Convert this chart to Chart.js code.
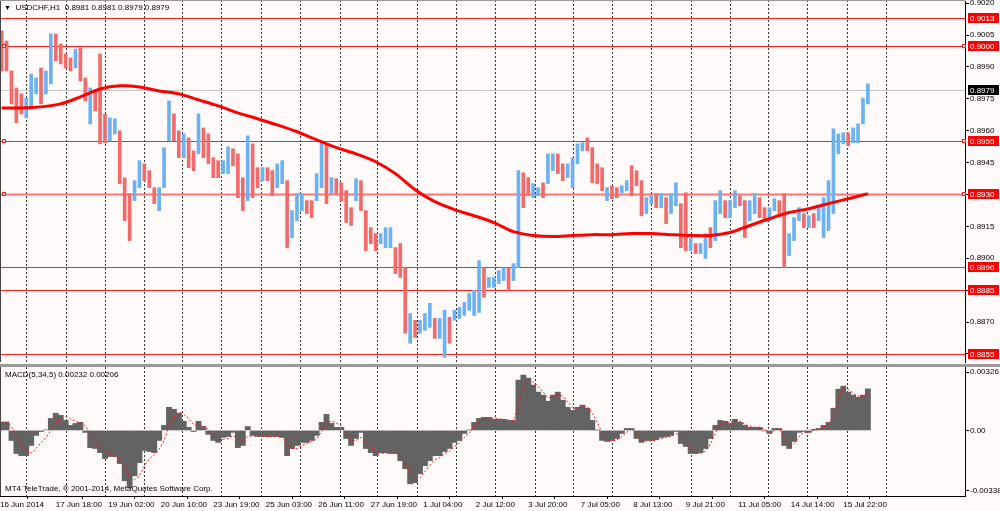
<!DOCTYPE html>
<html>
<head>
<meta charset="utf-8">
<script src="https://cdn.jsdelivr.net/npm/chart.js@4.4.1/dist/chart.umd.min.js"></script>
<style>
  html, body { margin: 0; padding: 0; background: #fffafa; }
  body { width: 1000px; height: 511px; position: relative; overflow: hidden;
         font-family: 'Liberation Sans', Arial, sans-serif; font-size: 8px; color: #000; }
  canvas { position: absolute; left: 0; }
  #priceChart { top: 0; }
  #macdChart { top: 367px; }
  #sep { position: absolute; left: 0; top: 364px; width: 1000px; height: 3px; background: #9a9a9a; }
  .txt { position: absolute; white-space: pre; line-height: 10px; }
</style>
</head>
<body>
<canvas id="priceChart" width="1000" height="364"></canvas>
<div id="sep"></div>
<canvas id="macdChart" width="1000" height="144"></canvas>
<div class="txt" style="left:4px;top:3px"><span style="font-size:7px">▼</span>  USDCHF,H1  0.8981 0.8981 0.8979 0.8979</div>
<div class="txt" style="left:5px;top:370px">MACD(5,34,5) 0.00232 0.00206</div>
<div class="txt" style="left:5px;top:484px">MT4 TeleTrade, © 2001-2014, MetaQuotes Software Corp.</div>
<script>
// H1 bars, sampled every 3 hours (sample k sits on bar 3k+1), bar 0 = 16 Jun 08:00
const barHigh = [
  0.90069,0.90022,0.89881,0.89801,0.89773,0.89754,0.89867,0.89848,0.89895,0.89881,
  0.90055,0.90055,0.90008,0.89961,0.89942,0.89984,0.89989,0.89848,0.89801,0.89787,
  0.89961,0.89679,0.89660,0.89656,0.89599,0.89379,0.89304,0.89365,0.89459,0.89444,
  0.89412,0.89332,0.89332,0.89520,0.89740,0.89679,0.89599,0.89585,0.89566,0.89505,
  0.89679,0.89613,0.89585,0.89473,0.89459,0.89459,0.89524,0.89515,0.89491,0.89379,
  0.89576,0.89538,0.89426,0.89426,0.89426,0.89412,0.89444,0.89459,0.89365,0.89224,
  0.89304,0.89304,0.89271,0.89271,0.89398,0.89552,0.89538,0.89379,0.89374,0.89355,
  0.89318,0.89238,0.89374,0.89365,0.89224,0.89144,0.89116,0.89116,0.89144,0.89144,
  0.89050,0.89069,0.88956,0.88740,0.88708,0.88708,0.88740,0.88788,0.88717,0.88717,
  0.88755,0.88722,0.88755,0.88769,0.88792,0.88834,0.88849,0.88989,0.88956,0.88910,
  0.88910,0.88942,0.88956,0.88956,0.88975,0.89412,0.89402,0.89379,0.89351,0.89332,
  0.89355,0.89491,0.89491,0.89491,0.89444,0.89444,0.89473,0.89538,0.89543,0.89566,
  0.89520,0.89444,0.89426,0.89332,0.89341,0.89332,0.89341,0.89365,0.89435,0.89412,
  0.89365,0.89285,0.89294,0.89304,0.89304,0.89285,0.89304,0.89355,0.89257,0.89308,
  0.89093,0.89069,0.89069,0.89116,0.89144,0.89271,0.89318,0.89271,0.89271,0.89318,
  0.89294,0.89271,0.89271,0.89304,0.89285,0.89238,0.89238,0.89280,0.89271,0.89304,
  0.89116,0.89191,0.89238,0.89210,0.89200,0.89210,0.89238,0.89285,0.89365,0.89609,
  0.89585,0.89590,0.89590,0.89613,0.89632,0.89754,0.89820
];
const barLow = [
  0.89881,0.89881,0.89726,0.89637,0.89679,0.89660,0.89707,0.89773,0.89726,0.89773,
  0.89820,0.89928,0.89914,0.89895,0.89881,0.89895,0.89834,0.89740,0.89632,0.89693,
  0.89538,0.89543,0.89552,0.89585,0.89351,0.89177,0.89083,0.89271,0.89332,0.89365,
  0.89332,0.89257,0.89224,0.89332,0.89552,0.89552,0.89473,0.89473,0.89426,0.89412,
  0.89491,0.89473,0.89444,0.89379,0.89379,0.89398,0.89398,0.89435,0.89285,0.89224,
  0.89271,0.89285,0.89332,0.89365,0.89365,0.89294,0.89332,0.89351,0.89050,0.89097,
  0.89177,0.89224,0.89210,0.89191,0.89271,0.89332,0.89257,0.89304,0.89304,0.89271,
  0.89168,0.89154,0.89271,0.89224,0.89036,0.89069,0.89036,0.89069,0.89050,0.89050,
  0.88928,0.88910,0.88647,0.88600,0.88628,0.88647,0.88661,0.88675,0.88623,0.88623,
  0.88534,0.88600,0.88708,0.88717,0.88731,0.88755,0.88731,0.88745,0.88816,0.88863,
  0.88863,0.88881,0.88895,0.88849,0.88895,0.88956,0.89238,0.89294,0.89285,0.89294,
  0.89285,0.89351,0.89412,0.89398,0.89365,0.89379,0.89332,0.89444,0.89505,0.89505,
  0.89355,0.89351,0.89318,0.89271,0.89280,0.89285,0.89308,0.89318,0.89294,0.89341,
  0.89200,0.89210,0.89257,0.89238,0.89238,0.89163,0.89210,0.89247,0.89050,0.89036,
  0.89036,0.89022,0.89022,0.88999,0.89050,0.89083,0.89210,0.89191,0.89191,0.89238,
  0.89247,0.89097,0.89177,0.89210,0.89191,0.89177,0.89177,0.89224,0.89210,0.88956,
  0.89013,0.89083,0.89177,0.89144,0.89144,0.89144,0.89177,0.89097,0.89130,0.89210,
  0.89491,0.89538,0.89529,0.89543,0.89543,0.89632,0.89726
];
// 1 = bullish (blue), 0 = bearish (red)
const barUp = [
  0,0,0,0,0,1,1,1,0,1, 1,0,0,0,0,1,0,0,1,0, 0,0,1,1,0,0,0,1,1,0,
  0,0,1,1,1,0,0,1,0,0, 1,0,0,0,0,1,1,0,0,0, 1,0,0,1,0,0,1,1,0,1,
  1,1,0,0,1,1,0,1,0,0, 0,0,1,0,0,0,0,1,1,1, 0,0,0,1,0,1,1,1,0,1,
  1,0,1,1,1,1,1,1,0,1, 1,1,1,0,1,1,0,0,1,1, 0,1,1,0,0,1,1,1,1,0,
  0,0,0,1,0,0,1,1,0,0, 0,1,1,0,1,0,1,1,0,0, 1,0,1,1,0,1,1,0,1,1,
  0,0,1,1,0,0,1,1,0,0, 1,1,1,0,1,0,1,1,1,1, 1,1,0,1,1,1,1
];
// moving average, one reading every 12 bars
const maLine = [
  0.89707,0.89707,0.89712,0.89726,0.89759,0.89796,0.89811,0.89806,0.89787,0.89773,
  0.89745,0.89717,0.89684,0.89656,0.89627,0.89595,0.89557,0.89520,0.89491,0.89454,
  0.89398,0.89322,0.89266,0.89229,0.89200,0.89168,0.89125,0.89107,0.89102,0.89107,
  0.89111,0.89111,0.89116,0.89116,0.89111,0.89107,0.89107,0.89121,0.89154,0.89186,
  0.89215,0.89233,0.89257,0.89280,0.89304
];
// MACD(5,34,5) main histogram and signal, same samples as the bars
const macdHist = [
  0.00047,0.00047,-0.00056,-0.00129,-0.00141,-0.00141,-0.00084,-0.00028,-0.00006,0.00003,
  0.00067,0.00096,0.00084,0.00056,0.00028,0.00039,0.00045,-0.00011,-0.00096,-0.00101,
  -0.00124,-0.00157,-0.00146,-0.00146,-0.00185,-0.00281,-0.00320,-0.00253,-0.00180,-0.00112,
  -0.00118,-0.00124,-0.00056,0.00028,0.00129,0.00118,0.00096,0.00051,0.00017,-0.00006,
  0.00051,0.00022,-0.00022,-0.00056,-0.00067,-0.00039,-0.00034,-0.00011,-0.00096,-0.00084,
  0.00022,-0.00028,-0.00034,-0.00034,-0.00034,-0.00034,-0.00034,-0.00039,-0.00141,-0.00101,
  -0.00084,-0.00067,-0.00067,-0.00056,-0.00028,0.00045,0.00090,0.00039,0.00017,0.00017,
  -0.00045,-0.00084,-0.00045,-0.00011,-0.00101,-0.00124,-0.00141,-0.00124,-0.00124,-0.00129,
  -0.00129,-0.00169,-0.00214,-0.00298,-0.00292,-0.00242,-0.00197,-0.00169,-0.00141,-0.00141,
  -0.00118,-0.00101,-0.00067,-0.00056,-0.00017,0.00002,0.00045,0.00067,0.00073,0.00073,
  0.00062,0.00062,0.00062,0.00056,0.00056,0.00281,0.00309,0.00292,0.00253,0.00214,
  0.00197,0.00163,0.00197,0.00214,0.00169,0.00129,0.00112,0.00129,0.00141,0.00124,
  0.00056,0.00002,-0.00056,-0.00062,-0.00056,-0.00045,-0.00017,0.00011,0.00011,-0.00045,
  -0.00067,-0.00056,-0.00056,-0.00051,-0.00039,-0.00034,-0.00028,-0.00006,-0.00073,-0.00090,
  -0.00129,-0.00129,-0.00124,-0.00101,-0.00045,0.00028,0.00056,0.00051,0.00039,0.00062,
  0.00045,0.00028,0.00017,0.00017,0.00017,-0.00002,-0.00017,0.00011,0.00011,-0.00084,
  -0.00101,-0.00062,-0.00011,-0.00006,-0.00011,0.00006,0.00011,0.00028,0.00045,0.00124,
  0.00230,0.00247,0.00214,0.00197,0.00185,0.00197,0.00232
];
const macdSignal = [
  0.00040,0.00045,0.00020,-0.00030,-0.00080,-0.00115,-0.00125,-0.00100,-0.00070,-0.00040,
  0.00000,0.00040,0.00065,0.00075,0.00065,0.00050,0.00042,0.00025,-0.00020,-0.00055,
  -0.00090,-0.00120,-0.00135,-0.00145,-0.00160,-0.00200,-0.00255,-0.00275,-0.00250,-0.00200,
  -0.00160,-0.00135,-0.00105,-0.00055,0.00020,0.00075,0.00100,0.00090,0.00065,0.00035,
  0.00030,0.00025,0.00005,-0.00025,-0.00045,-0.00050,-0.00045,-0.00030,-0.00050,-0.00065,
  -0.00035,-0.00030,-0.00030,-0.00033,-0.00034,-0.00034,-0.00034,-0.00036,-0.00080,-0.00100,
  -0.00100,-0.00085,-0.00072,-0.00063,-0.00045,-0.00005,0.00040,0.00050,0.00040,0.00025,
  -0.00010,-0.00050,-0.00055,-0.00040,-0.00060,-0.00090,-0.00120,-0.00128,-0.00126,-0.00127,
  -0.00128,-0.00145,-0.00180,-0.00235,-0.00275,-0.00265,-0.00230,-0.00195,-0.00165,-0.00150,
  -0.00130,-0.00115,-0.00090,-0.00070,-0.00040,-0.00015,0.00020,0.00045,0.00062,0.00070,
  0.00068,0.00064,0.00062,0.00059,0.00057,0.00150,0.00230,0.00275,0.00270,0.00245,
  0.00215,0.00185,0.00185,0.00200,0.00190,0.00160,0.00130,0.00125,0.00132,0.00130,
  0.00095,0.00045,-0.00010,-0.00045,-0.00058,-0.00052,-0.00035,-0.00010,0.00005,-0.00020,
  -0.00050,-0.00060,-0.00058,-0.00054,-0.00045,-0.00038,-0.00032,-0.00018,-0.00040,-0.00070,
  -0.00105,-0.00125,-0.00127,-0.00115,-0.00075,-0.00015,0.00030,0.00048,0.00045,0.00052,
  0.00050,0.00035,0.00022,0.00018,0.00017,0.00005,-0.00010,0.00000,0.00008,-0.00045,
  -0.00085,-0.00075,-0.00035,-0.00012,-0.00010,0.00000,0.00008,0.00020,0.00035,0.00085,
  0.00170,0.00230,0.00228,0.00208,0.00192,0.00192,0.00206
];
const priceTicks = [0.9020,0.9005,0.8990,0.8975,0.8960,0.8945,0.8930,0.8915,0.8900,0.8885,0.8870,0.8855];
const macdTicks = [0.00326, 0, -0.00338];
const levels = [0.9013, 0.9000, 0.8955, 0.8930, 0.8896, 0.8885, 0.8855];
const anchoredLevels = [0.9000, 0.8955, 0.8930];
const lastPrice = 0.8979;
// bar index of each day start, and of each time label
const dayBars = [16,40,64,88,111,135,159,183,207,230,254,278,302,326,349,373,397,421,445,468,492,516,540];
const xLabelBars = [0,34,66,98,130,162,194,226,258,290,322,354,386,418,450,482,514];
const xLabels = ['16 Jun 2014','17 Jun 18:00','19 Jun 02:00','20 Jun 10:00','23 Jun 19:00','25 Jun 03:00',
  '26 Jun 11:00','27 Jun 19:00','1 Jul 04:00','2 Jul 12:00','3 Jul 20:00','7 Jul 05:00','8 Jul 13:00',
  '9 Jul 21:00','11 Jul 05:00','14 Jul 14:00','15 Jul 22:00'];

const BAR_STEP = 3, MA_STEP = 12, X_MAX = 588.2;

Chart.defaults.font.family = "'Liberation Sans', Arial, sans-serif";
Chart.defaults.font.size = 8;
Chart.defaults.color = '#000';

function hLine(ctx, x1, x2, y) {
  ctx.beginPath(); ctx.moveTo(x1, y); ctx.lineTo(x2, y); ctx.stroke();
}
function daySeparators(chart, top) {
  const { ctx, chartArea: a, scales: { x } } = chart;
  ctx.save();
  ctx.strokeStyle = '#333';
  ctx.lineWidth = 1;
  ctx.setLineDash([2, 2]);
  dayBars.forEach(b => {
    const px = Math.round(x.getPixelForValue(b)) + 0.5;
    ctx.beginPath(); ctx.moveTo(px, top); ctx.lineTo(px, a.bottom); ctx.stroke();
  });
  ctx.restore();
}
function rightAxis(fmt) {
  return {
    position: 'right',
    grid: { drawOnChartArea: false, drawTicks: true, tickLength: 4, color: '#000' },
    border: { display: true, color: '#000' },
    ticks: { padding: 1, callback: fmt, autoSkip: false },
    afterFit: s => { s.width = 35; s.paddingTop = 0; s.paddingBottom = 0; }
  };
}

const pricePlugin = {
  id: 'priceExtras',
  beforeDatasetsDraw(chart) {
    const { ctx, chartArea: a, scales: { y } } = chart;
    daySeparators(chart, 0);
    ctx.save();
    ctx.lineWidth = 1;
    ctx.strokeStyle = '#c8c8c8';
    hLine(ctx, a.left, a.right, Math.round(y.getPixelForValue(lastPrice)) + 0.5);
    levels.forEach(v => {
      const py = Math.round(y.getPixelForValue(v)) + 0.5;
      const sel = v === 0.8930;
      ctx.strokeStyle = sel ? 'rgba(255,70,70,0.75)' : '#ff2020';
      ctx.lineWidth = sel ? 2 : 1;
      hLine(ctx, a.left, a.right, py);
    });
    ctx.restore();
  },
  afterDraw(chart) {
    const { ctx, chartArea: a, scales: { y } } = chart;
    ctx.save();
    ctx.font = "8px 'Liberation Sans', Arial, sans-serif";
    ctx.textBaseline = 'middle';
    const box = (v, txt, bg) => {
      const py = Math.round(y.getPixelForValue(v));
      ctx.fillStyle = bg;
      ctx.fillRect(a.right + 3, py - 5, 31, 10);
      ctx.fillStyle = '#fff';
      ctx.fillText(txt, a.right + 5, py + 0.5);
    };
    levels.forEach(v => box(v, v.toFixed(4), '#ff0000'));
    box(lastPrice, lastPrice.toFixed(4), '#000');
    ctx.strokeStyle = '#ff2020';
    ctx.lineWidth = 1;
    anchoredLevels.forEach(v => {
      const py = Math.round(y.getPixelForValue(v));
      ctx.fillStyle = '#fff';
      [a.left + 2, a.right - 3].forEach(px => {
        ctx.fillRect(px, py - 1.5, 3, 3);
        ctx.strokeRect(px + 0.5, py - 1.5, 3, 3);
      });
    });
    ctx.strokeStyle = '#444';
    ctx.beginPath(); ctx.moveTo(0.5, 0); ctx.lineTo(0.5, a.bottom); ctx.stroke();
    ctx.strokeStyle = '#999';
    hLine(ctx, 0, a.right, 0.5);
    ctx.restore();
  }
};

const macdPlugin = {
  id: 'macdExtras',
  beforeDatasetsDraw(chart) { daySeparators(chart, chart.chartArea.top); },
  afterDraw(chart) {
    const { ctx, chartArea: a } = chart;
    ctx.save();
    ctx.strokeStyle = '#444';
    ctx.lineWidth = 1;
    ctx.beginPath(); ctx.moveTo(0.5, a.top); ctx.lineTo(0.5, a.bottom); ctx.stroke();
    ctx.restore();
  }
};

new Chart(document.getElementById('priceChart'), {
  type: 'bar',
  data: {
    datasets: [
      {
        type: 'line',
        data: maLine.map((v, m) => ({ x: m * MA_STEP + 1, y: v })),
        borderColor: '#ff0000',
        borderWidth: 3,
        pointRadius: 0,
        tension: 0.3,
        order: 0
      },
      {
        type: 'bar',
        data: barHigh.map((h, k) => ({ x: k * BAR_STEP + 1, y: [barLow[k], h] })),
        backgroundColor: barUp.map(u => u ? '#6cb2f2' : '#f36a6a'),
        barThickness: 3,
        order: 1
      }
    ]
  },
  options: {
    responsive: false,
    animation: false,
    layout: { padding: { top: 1, bottom: 2, left: 0, right: 0 } },
    plugins: { legend: { display: false }, tooltip: { enabled: false } },
    scales: {
      x: { type: 'linear', min: 0, max: X_MAX, offset: false, display: false },
      y: Object.assign(rightAxis(v => v.toFixed(4)), {
        min: 0.88512, max: 0.90210,
        afterBuildTicks: s => { s.ticks = priceTicks.map(v => ({ value: v })); }
      })
    }
  },
  plugins: [pricePlugin]
});

new Chart(document.getElementById('macdChart'), {
  type: 'bar',
  data: {
    datasets: [
      {
        type: 'line',
        data: macdSignal.map((v, k) => ({ x: k * BAR_STEP + 1, y: v })),
        borderColor: '#ff1010',
        borderWidth: 1,
        borderDash: [2, 2],
        pointRadius: 0,
        tension: 0.3,
        order: 0
      },
      {
        type: 'bar',
        data: macdHist.map((v, k) => ({ x: k * BAR_STEP + 1, y: v })),
        backgroundColor: '#636363',
        barThickness: 5.2,
        order: 1
      }
    ]
  },
  options: {
    responsive: false,
    animation: false,
    layout: { padding: 0 },
    plugins: { legend: { display: false }, tooltip: { enabled: false } },
    scales: {
      x: {
        type: 'linear', min: 0, max: X_MAX, offset: false,
        grid: { drawOnChartArea: false, drawTicks: true, tickLength: 3, color: '#000' },
        border: { display: true, color: '#000' },
        ticks: { align: 'start', autoSkip: false, maxRotation: 0, minRotation: 0, padding: 1,
                  callback: (v, i) => xLabels[i] },
        afterBuildTicks: s => { s.ticks = xLabelBars.map(v => ({ value: v })); },
        afterFit: s => { s.height = 15; s.paddingLeft = 0; s.paddingRight = 0; }
      },
      y: Object.assign(rightAxis(v => v === 0 ? '0.00' : v.toFixed(5)), {
        min: -0.00366, max: 0.00354,
        afterBuildTicks: s => { s.ticks = macdTicks.map(v => ({ value: v })); }
      })
    }
  },
  plugins: [macdPlugin]
});
</script>
</body>
</html>
